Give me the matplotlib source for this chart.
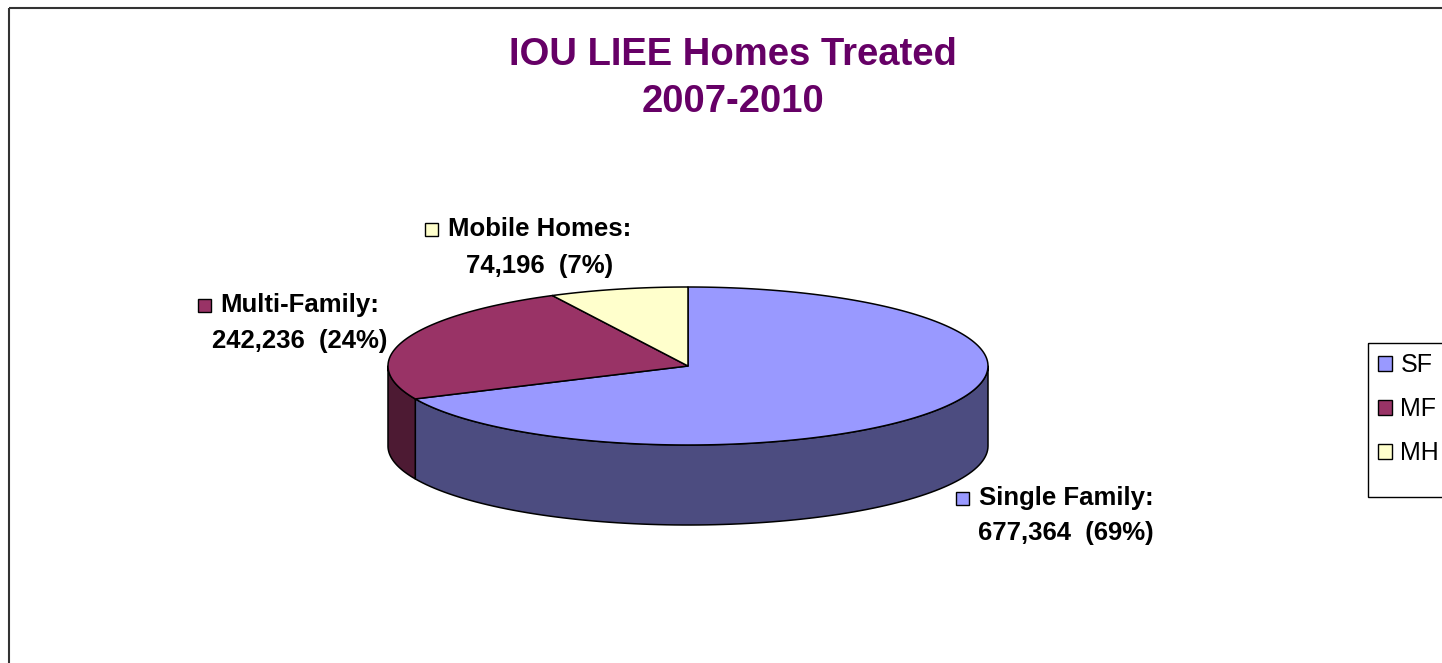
import matplotlib
matplotlib.use('Agg')
import matplotlib.pyplot as plt
from matplotlib.patches import Polygon, Rectangle, Patch
import numpy as np

plt.rcParams['font.family'] = ['Liberation Sans', 'DejaVu Sans']

# data
codes = ['SF', 'MF', 'MH']
names = ['Single Family:', 'Multi-Family:', 'Mobile Homes:']
homes = [677364, 242236, 74196]
pct_text = ['69%', '24%', '7%']
top_colors = ['#9999FF', '#993366', '#FFFFCC']
side_colors = ['#4C4C80', '#4D1A33', '#80806A']

W, H = 1442, 663
fig = plt.figure(figsize=(W / 100, H / 100), dpi=100)
ax = fig.add_axes([0, 0, 1, 1])
ax.set_xlim(0, W)
ax.set_ylim(H, 0)
ax.axis('off')

# outer chart border (runs off right / bottom)
ax.add_patch(Rectangle((9, 8), W + 20, H + 20, fill=False, ec='#333333', lw=1.5))

# pseudo 3d pie
cx, cy, a, b, depth = 688, 366, 300, 79, 80


def rim(t):
    t = np.radians(t)
    return cx + a * np.cos(t), cy - b * np.sin(t)


fracs = np.array(homes) / sum(homes)
starts = 90 - 360 * np.concatenate([[0], np.cumsum(fracs)[:-1]])
ends = starts - 360 * fracs

# side walls (front half only: -180..0)
for s, e, col in zip(starts, ends, side_colors):
    for k in (-360, 0, 360):
        lo, hi = max(e + k, -180), min(s + k, 0)
        if hi <= lo:
            continue
        t = np.linspace(hi, lo, 100)
        x, y = rim(t)
        xs = np.concatenate([x, x[::-1]])
        ys = np.concatenate([y, (y + depth)[::-1]])
        ax.add_patch(Polygon(np.column_stack([xs, ys]), closed=True,
                             fc=col, ec='black', lw=1.1, joinstyle='round'))

# top faces
for s, e, col in zip(starts, ends, top_colors):
    t = np.linspace(s, e, 200)
    x, y = rim(t)
    pts = np.column_stack([np.r_[cx, x], np.r_[cy, y]])
    ax.add_patch(Polygon(pts, closed=True, fc=col, ec='black', lw=1.1,
                         joinstyle='round'))

# title
ax.text(733, 55, 'IOU LIEE Homes Treated', ha='center', va='center',
        fontsize=27.5, fontweight='bold', color='#660066')
ax.text(733, 102, '2007-2010', ha='center', va='center',
        fontsize=27.5, fontweight='bold', color='#660066')

# data labels
label_pos = [(1066, 498, 533), (300, 305, 341), (540, 229, 266)]
fig.canvas.draw()
rend = fig.canvas.get_renderer()
inv = ax.transData.inverted()
for (lx, y1, y2), name, n, p, col in zip(label_pos, names, homes, pct_text, top_colors):
    t1 = ax.text(lx, y1, name, ha='center', va='center', fontsize=18.5,
                 fontweight='bold')
    ax.text(lx, y2, '{:,}  ({})'.format(n, p), ha='center', va='center',
            fontsize=18.5, fontweight='bold')
    bb = t1.get_window_extent(renderer=rend)
    x0 = inv.transform((bb.x0, bb.y0))[0]
    ax.add_patch(Rectangle((x0 - 23, y1 - 6.5), 13, 13, fc=col, ec='black', lw=1))

# legend (frame drawn separately, it runs off the right edge)
ax.add_patch(Rectangle((1368, 343), 100, 154, fill=False, ec='black', lw=1))
handles = [Patch(fc=c, ec='black', lw=1) for c in top_colors]
fig.legend(handles, codes, loc='upper left',
           bbox_to_anchor=(1368 / W, 1 - 343 / H), fontsize=18,
           frameon=False, handlelength=0.55, handleheight=0.55,
           handletextpad=0.35, labelspacing=0.8, borderpad=0.4,
           borderaxespad=0)

fig.savefig('out.png', dpi=100)
